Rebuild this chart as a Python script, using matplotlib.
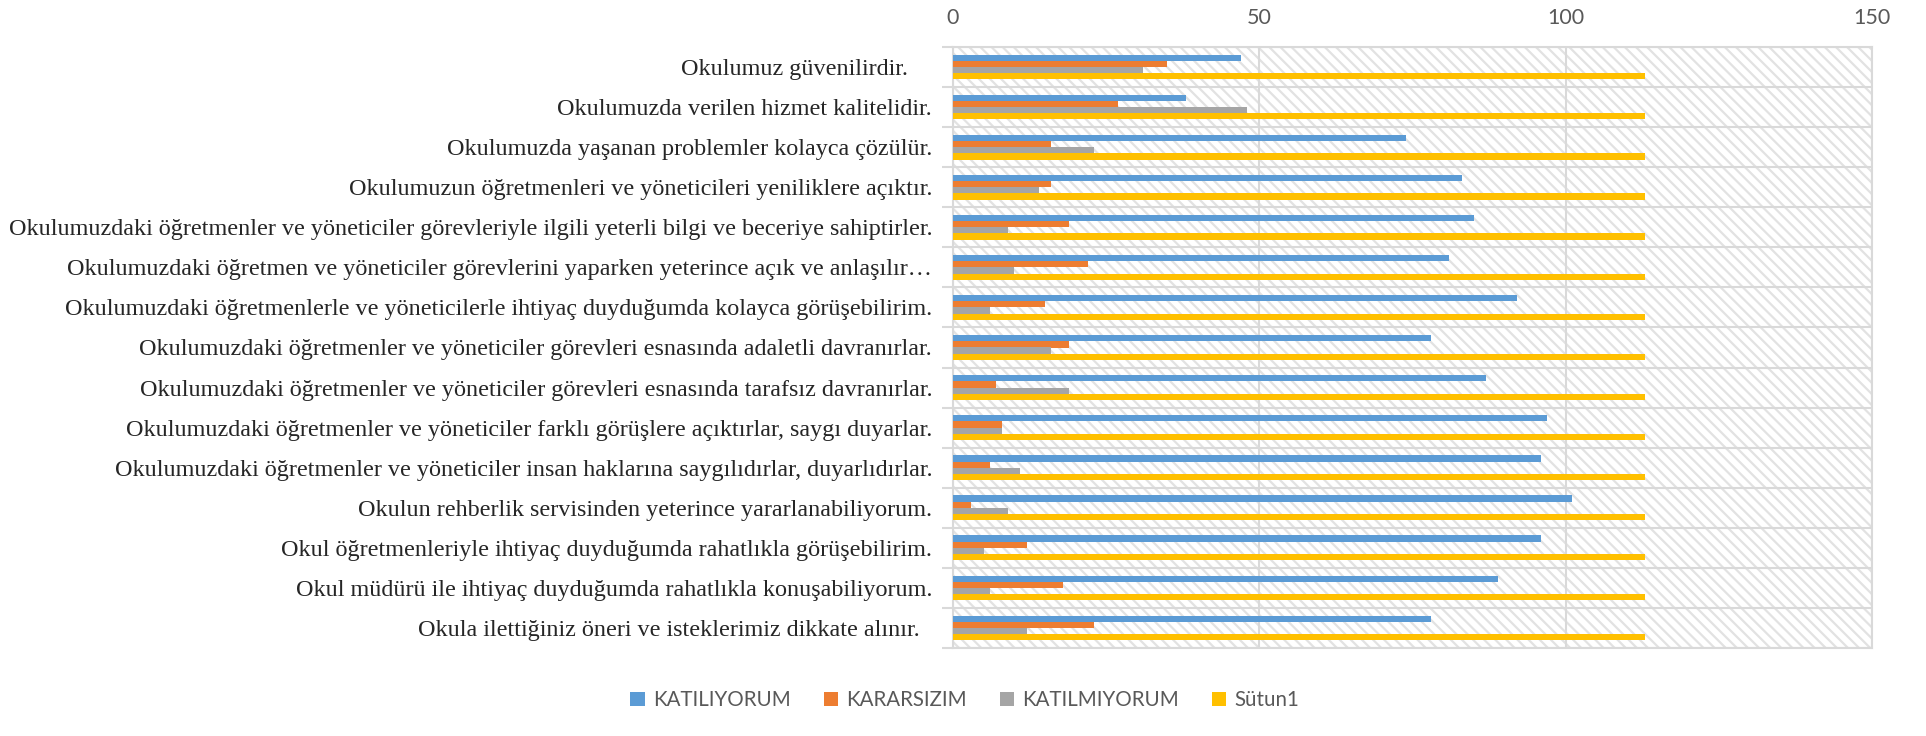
import matplotlib
matplotlib.use("Agg")
import matplotlib.pyplot as plt
import numpy as np
from matplotlib.patches import Rectangle

categories = [
    "Okulumuz güvenilirdir.    ",
    "Okulumuzda verilen hizmet kalitelidir.",
    "Okulumuzda yaşanan problemler kolayca çözülür.",
    "Okulumuzun öğretmenleri ve yöneticileri yeniliklere açıktır.",
    "Okulumuzdaki öğretmenler ve yöneticiler görevleriyle ilgili yeterli bilgi ve beceriye sahiptirler.",
    "Okulumuzdaki öğretmen ve yöneticiler görevlerini yaparken yeterince açık ve anlaşılır…",
    "Okulumuzdaki öğretmenlerle ve yöneticilerle ihtiyaç duyduğumda kolayca görüşebilirim.",
    "Okulumuzdaki öğretmenler ve yöneticiler görevleri esnasında adaletli davranırlar.",
    "Okulumuzdaki öğretmenler ve yöneticiler görevleri esnasında tarafsız davranırlar.",
    "Okulumuzdaki öğretmenler ve yöneticiler farklı görüşlere açıktırlar, saygı duyarlar.",
    "Okulumuzdaki öğretmenler ve yöneticiler insan haklarına saygılıdırlar, duyarlıdırlar.",
    "Okulun rehberlik servisinden yeterince yararlanabiliyorum.",
    "Okul öğretmenleriyle ihtiyaç duyduğumda rahatlıkla görüşebilirim.",
    "Okul müdürü ile ihtiyaç duyduğumda rahatlıkla konuşabiliyorum.",
    "Okula ilettiğiniz öneri ve isteklerimiz dikkate alınır.  ",
]

katiliyorum = [47, 38, 74, 83, 85, 81, 92, 78, 87, 97, 96, 101, 96, 89, 78]
kararsizim = [35, 27, 16, 16, 19, 22, 15, 19, 7, 8, 6, 3, 12, 18, 23]
katilmiyorum = [31, 48, 23, 14, 9, 10, 6, 16, 19, 8, 11, 9, 5, 6, 12]
sutun1 = [113] * 15

series_names = ["KATILIYORUM", "KARARSIZIM", "KATILMIYORUM", "Sütun1"]
series_values = [katiliyorum, kararsizim, katilmiyorum, sutun1]
colors = ["#5B9BD5", "#ED7D31", "#A5A5A5", "#FFC000"]
xticks = [0, 50, 100, 150]

plt.rcParams["hatch.linewidth"] = 1.6

fig = plt.figure(figsize=(19.26, 7.36), dpi=100)
ax = fig.add_axes([953 / 1926, 1 - 648 / 736, (1872 - 953) / 1926, (648 - 47) / 736])

n = len(categories)
y = np.arange(n)
h = 0.154
offsets = [-1.5 * h, -0.5 * h, 0.5 * h, 1.5 * h]

# hatched background
bg = Rectangle((0, 0), 1, 1, transform=ax.transAxes, facecolor="white",
               edgecolor="#e2e2e2", hatch="\\\\\\", linewidth=0, zorder=0)
ax.add_patch(bg)

for vals, name, col, off in zip(series_values, series_names, colors, offsets):
    ax.barh(y + off, vals, height=h, color=col, label=name, zorder=3)

ax.set_xlim(0, 150)
ax.set_ylim(n - 0.5, -0.5)

ax.set_yticks(y)
ax.set_yticklabels(categories, fontfamily="Liberation Serif", fontsize=17.4, color="#262626")
ax.tick_params(axis="y", which="major", length=0, pad=15)
ax.set_yticks(np.arange(n + 1) - 0.5, minor=True)
ax.tick_params(axis="y", which="minor", length=8, width=1.5, color="#d9d9d9")
ax.grid(axis="y", which="minor", color="#d9d9d9", linewidth=1.5, zorder=1)

ax.xaxis.tick_top()
ax.set_xticks(xticks)
ax.set_xticklabels([str(v) for v in xticks], fontfamily="Lato", fontsize=15.5, color="#595959")
ax.tick_params(axis="x", length=0, pad=14)
ax.grid(axis="x", which="major", color="#d9d9d9", linewidth=1.5, zorder=1)
ax.set_axisbelow(True)

for s in ax.spines.values():
    s.set_color("#d9d9d9")
    s.set_linewidth(1.5)

leg = fig.legend(loc="center", bbox_to_anchor=(0.501, 0.049), ncol=4, frameon=False,
                 prop={"family": "Lato", "size": 14.8}, handlelength=0.7, handleheight=0.7,
                 handletextpad=0.4, columnspacing=1.6)
for t in leg.get_texts():
    t.set_color("#595959")

fig.savefig("out.png", dpi=100)
